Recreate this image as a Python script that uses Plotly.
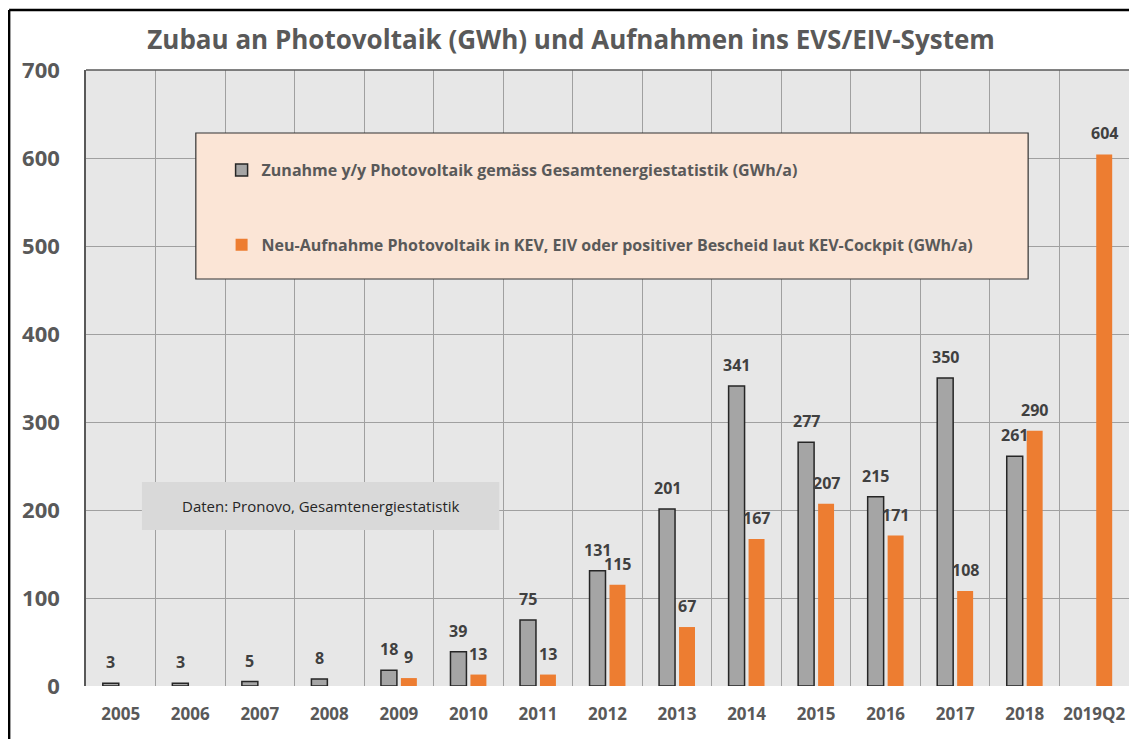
import plotly.graph_objects as go

categories = ["2005", "2006", "2007", "2008", "2009", "2010", "2011", "2012",
              "2013", "2014", "2015", "2016", "2017", "2018", "2019Q2"]
zunahme = [3, 3, 5, 8, 18, 39, 75, 131, 201, 341, 277, 215, 350, 261, None]
neuaufnahme = [None, None, None, None, 9, 13, 13, 115, 67, 167, 207, 171, 108, 290, 604]
y_ticks = [0, 100, 200, 300, 400, 500, 600, 700]

name_gray = "Zunahme y/y Photovoltaik gemäss Gesamtenergiestatistik (GWh/a)"
name_orange = "Neu-Aufnahme Photovoltaik in KEV, EIV oder positiver Bescheid laut KEV-Cockpit (GWh/a)"

FONT = "Open Sans"
TXT = "#595959"

fig = go.Figure()
fig.add_trace(go.Bar(
    x=categories, y=zunahme, name=name_gray, legendgroup="g1",
    marker=dict(color="#a5a5a5", line=dict(color="#262626", width=1.5)),
))
fig.add_trace(go.Bar(
    x=categories, y=neuaufnahme, name=name_orange, legendgroup="g2",
    marker=dict(color="#ed7d31", line=dict(color="#ed7d31", width=0)),
))

# data labels
annotations = []
for series, shift in ((zunahme, -10), (neuaufnahme, 10)):
    for i, v in enumerate(series):
        if v is None:
            continue
        annotations.append(dict(
            x=i, y=v, xref="x", yref="y", text=str(v), showarrow=False,
            xshift=shift, yshift=8, yanchor="bottom", xanchor="center",
            font=dict(family=FONT, size=16, color="#404040", weight="bold"),
        ))

annotations.append(dict(
    x=0.2249, y=0.2922, xref="paper", yref="paper",
    text="Daten: Pronovo, Gesamtenergiestatistik", showarrow=False,
    font=dict(family=FONT, size=15, color="#262626"),
    xanchor="center", yanchor="middle",
))

shapes = [
    # legend box
    dict(type="rect", xref="paper", yref="paper", x0=0.1053, x1=0.9033, y0=0.6607, y1=0.8977,
         fillcolor="#fbe5d6", line=dict(color="#333333", width=1.2), layer="above"),
    # data source box
    dict(type="rect", xref="paper", yref="paper", x0=0.0536, x1=0.3962, y0=0.2532, y1=0.3312,
         fillcolor="#d9d9d9", line=dict(width=0), layer="above"),
    # top border of plot area
    dict(type="line", xref="paper", yref="paper", x0=0, x1=1, y0=1, y1=1,
         line=dict(color="#595959", width=1.5)),
    # outer frame
    dict(type="line", xref="paper", yref="paper", x0=-0.0737, x1=-0.0737, y0=-0.3, y1=1.0974,
         line=dict(color="#000000", width=2.5)),
    dict(type="line", xref="paper", yref="paper", x0=-0.0737, x1=1.1, y0=1.0974, y1=1.0974,
         line=dict(color="#000000", width=2.5)),
]

fig.update_layout(
    width=1129, height=731,
    margin=dict(l=78, r=6, t=62, b=53),
    paper_bgcolor="white", plot_bgcolor="#e7e7e7",
    barmode="group", bargap=0.426, bargroupgap=0.2,
    title=dict(text="Zubau an Photovoltaik (GWh) und Aufnahmen ins EVS/EIV-System",
               x=0.4987, xanchor="center", y=0.9562, yanchor="middle",
               font=dict(family=FONT, size=26, color=TXT, weight="bold")),
    legend=dict(x=0.130, y=0.865, xanchor="left", yanchor="top",
                bgcolor="rgba(0,0,0,0)", borderwidth=0,
                traceorder="grouped", tracegroupgap=51,
                font=dict(family=FONT, size=16, color=TXT, weight="bold")),
    showlegend=True,
    annotations=annotations,
    shapes=shapes,
    xaxis=dict(type="category", range=[-0.5, 14.5], autorange=False,
               tickson="boundaries", showgrid=True, gridcolor="#a0a0a0",
               gridwidth=1, ticks="", showline=False, zeroline=False, tickangle=0,
               tickfont=dict(family=FONT, size=17, color=TXT, weight="bold"),
               ticklabelstandoff=16),
    yaxis=dict(range=[0, 700], autorange=False, tickvals=y_ticks, showgrid=True,
               gridcolor="#a0a0a0", gridwidth=1, zeroline=False, showline=True, mirror=True,
               linecolor="#595959", linewidth=1.5, ticks="",
               tickfont=dict(family=FONT, size=22, color=TXT, weight="bold"),
               ticklabelstandoff=20),
)

fig.write_html("out.html")
